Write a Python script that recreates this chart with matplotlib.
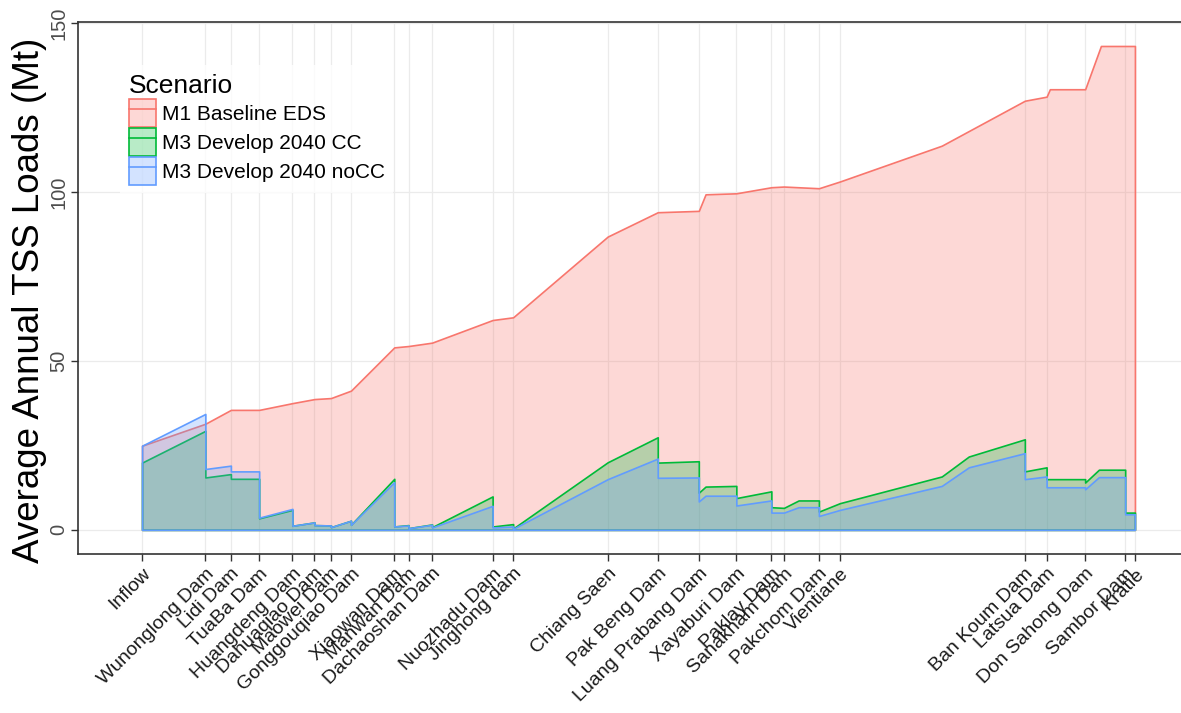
import matplotlib
matplotlib.use("Agg")
import matplotlib.pyplot as plt
from matplotlib.patches import Patch
from matplotlib.lines import Line2D

plt.rcParams["font.family"] = ["Liberation Sans", "DejaVu Sans"]

# Sites along the river (distance downstream, km)
site_names = ["Inflow", "Wunonglong Dam", "Lidi Dam", "TuaBa Dam", "Huangdeng Dam",
              "Dahuaqiao Dam", "Maowei Dam", "Gonggouqiao Dam", "Xiaowan Dam",
              "Manwan Dam", "Dachaoshan Dam", "Nuozhadu Dam", "Jinghong dam",
              "Chiang Saen", "Pak Beng Dam", "Luang Prabang Dam", "Xayaburi Dam",
              "Paklay Dam", "Sanakham Dam", "Pakchom Dam", "Vientiane",
              "Ban Koum Dam", "Latsua Dam", "Don Sahong Dam", "Sambor Dam", "Kratie"]
site_km = [0, 253, 355, 468, 601, 689, 755, 835, 1008, 1065, 1159, 1401, 1483,
           1861, 2061, 2225, 2375, 2515, 2565, 2705, 2789, 3528, 3615, 3769, 3929, 3968]

# M1 Baseline EDS
baseline_km = [0, 253, 355, 468, 601, 689, 755, 835, 1008, 1065, 1159, 1401, 1483,
               1861, 2061, 2225, 2252, 2375, 2515, 2565, 2705, 2789, 3196, 3528,
               3615, 3628, 3769, 3832, 3968]
baseline_load = [24.9, 31.4, 35.5, 35.5, 37.5, 38.7, 39.0, 41.2, 54.0, 54.4, 55.4, 62.1, 62.9,
                 86.8, 94.0, 94.4, 99.3, 99.6, 101.4, 101.6, 101.1, 103.1, 113.7, 127.0,
                 128.2, 130.4, 130.4, 143.2, 143.2]

# M3 Develop 2040 CC (repeated km = load just upstream / downstream of a dam)
cc_km = [0, 253, 253, 355, 355, 468, 468, 601, 601, 689, 689, 755, 755, 835, 835,
         1008, 1008, 1065, 1065, 1159, 1159, 1401, 1401, 1483, 1483, 1861,
         2061, 2061, 2225, 2225, 2252, 2375, 2375, 2515, 2515, 2565, 2624, 2705, 2705,
         2789, 3196, 3304, 3528, 3528, 3615, 3615, 3769, 3769, 3824, 3929, 3929, 3968]
cc_load = [19.9, 29.3, 15.5, 16.5, 15.1, 15.1, 3.4, 5.9, 1.2, 2.2, 1.4, 1.3, 0.8, 2.7, 1.5,
           15.1, 1.0, 1.4, 0.5, 1.6, 0.8, 9.9, 1.0, 1.7, 0.4, 20.0,
           27.4, 19.9, 20.3, 11.0, 12.8, 13.0, 9.4, 11.4, 6.7, 6.5, 8.7, 8.7, 5.4,
           7.9, 15.8, 21.7, 26.8, 17.3, 18.5, 15.0, 15.0, 14.0, 17.8, 17.8, 5.1, 5.1]

# M3 Develop 2040 noCC
nocc_km = cc_km
nocc_load = [24.9, 34.3, 18.0, 19.0, 17.3, 17.3, 3.6, 6.2, 1.2, 2.2, 1.4, 1.3, 0.8, 2.7, 1.5,
             14.1, 1.0, 1.3, 0.5, 1.5, 0.7, 7.1, 0.7, 1.0, 0.3, 15.0,
             21.1, 15.4, 15.5, 8.4, 10.1, 10.1, 7.2, 8.7, 5.1, 5.1, 6.7, 6.7, 4.1,
             5.9, 13.0, 18.5, 22.7, 15.0, 15.8, 12.6, 12.6, 12.0, 15.6, 15.6, 4.6, 4.6]

scenarios = ["M1 Baseline EDS", "M3 Develop 2040 CC", "M3 Develop 2040 noCC"]
colors = ["#F8766D", "#00BA38", "#619CFF"]
series = [(baseline_km, baseline_load), (cc_km, cc_load), (nocc_km, nocc_load)]

W, H = 1181, 713
fig = plt.figure(figsize=(W / 100, H / 100), dpi=100)
ax = fig.add_axes([78 / W, (H - 554) / H, (1199 - 78) / W, (554 - 22) / H])

fill_alpha = 0.28
for (km, load), col in zip(series, colors):
    ax.fill_between(km, 0, load, facecolor=(*matplotlib.colors.to_rgb(col), fill_alpha),
                    edgecolor=col, linewidth=1.2, zorder=2)

ax.set_xlim(-256, 4224)
ax.set_ylim(-7.15, 150.3)
ax.set_xticks(site_km)
ax.set_xticklabels(site_names, rotation=45, ha="right", rotation_mode="anchor",
                   fontsize=14, color="#1a1a1a")
ax.set_yticks([0, 50, 100, 150])
ax.set_yticklabels(["0", "50", "100", "150"], rotation=90, va="center",
                   fontsize=14.5, color="#4d4d4d")
ax.tick_params(axis="x", length=5, width=1.0, color="#333333", pad=3)
ax.tick_params(axis="y", length=5, width=1.0, color="#333333", pad=2)

ax.set_axisbelow(True)
ax.grid(True, color="#EBEBEB", linewidth=0.9)
for side in ["left", "bottom", "top"]:
    ax.spines[side].set_color("#333333")
    ax.spines[side].set_linewidth(1.2)
ax.spines["right"].set_visible(False)

ax.set_ylabel("Average Annual TSS Loads (Mt)", fontsize=26.5)
ax.yaxis.set_label_coords(-0.028, 0.477)

handles = []
for col in colors:
    patch = Patch(facecolor=(*matplotlib.colors.to_rgb(col), fill_alpha), edgecolor=col, linewidth=1.2)
    line = Line2D([], [], color=col, linewidth=1.2)
    handles.append((patch, line))

leg = fig.legend(handles, scenarios, title="Scenario", loc="upper left",
                 bbox_to_anchor=(110 / W, 1 - 55 / H), bbox_transform=fig.transFigure,
                 fontsize=15, title_fontsize=19, frameon=True, fancybox=False,
                 handlelength=1.33, handleheight=1.69, labelspacing=0.05,
                 handletextpad=0.25, borderpad=0.4, alignment="left")
leg.get_frame().set_facecolor("white")
leg.get_frame().set_edgecolor("none")

fig.savefig("out.png", dpi=100)
